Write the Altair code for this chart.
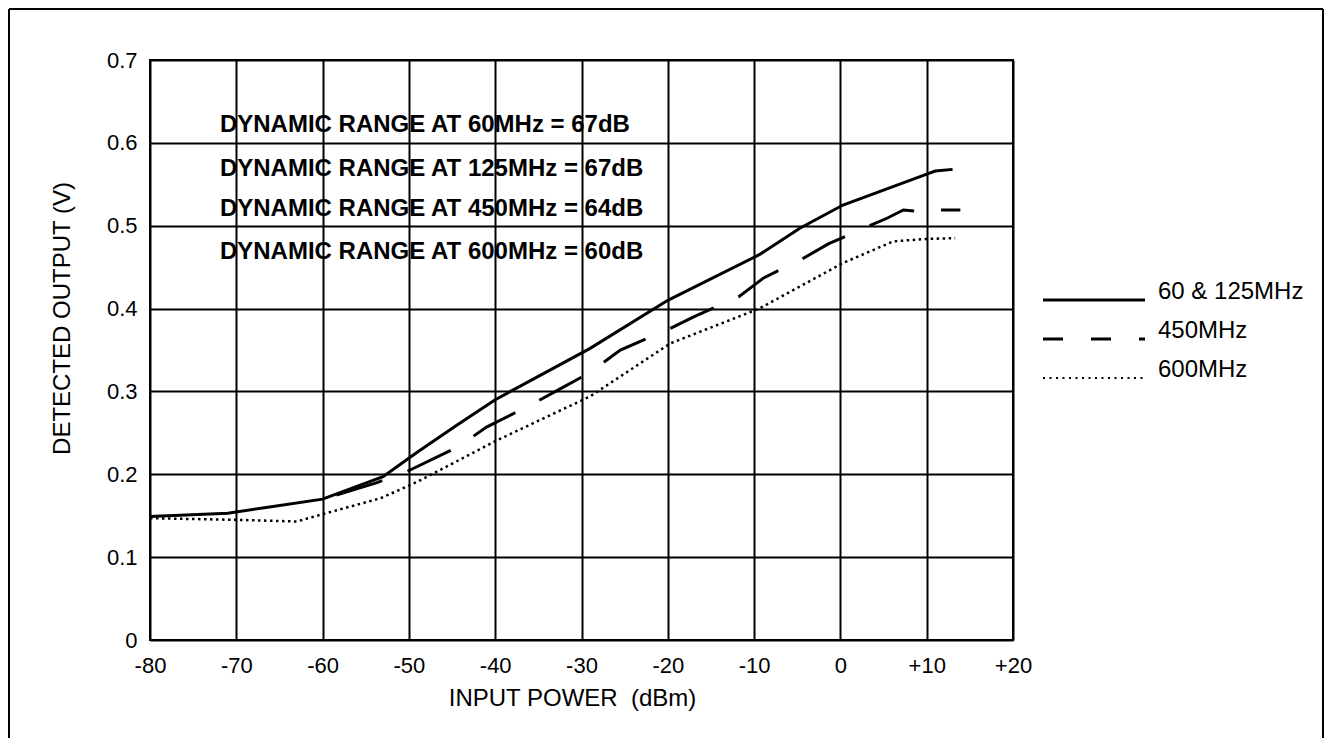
import altair as alt
import pandas as pd

FONT = "Liberation Sans"

# ---- data ----
solid_x = [-80, -71, -60, -53, -49, -44.5, -40, -29, -20, -9.4, -4.7, 0.3, 9.7, 11, 13]
solid_y = [0.149, 0.153, 0.170, 0.197, 0.227, 0.259, 0.290, 0.352, 0.410, 0.465, 0.497, 0.525, 0.561, 0.566, 0.568]

dash_x = [-58.4, -53.7, -50.3, -44.3, -41, -36.2, -33, -29, -25.5, -19.7, -17, -11.8, -8.9, -4.4, -1.4, 2.7, 5.4, 7.3, 9.4, 11.3, 13.9]
dash_y = [0.175, 0.190, 0.203, 0.233, 0.257, 0.282, 0.300, 0.323, 0.350, 0.376, 0.390, 0.414, 0.437, 0.460, 0.478, 0.497, 0.509, 0.519, 0.517, 0.519, 0.519]

dot_x = [-80, -70, -63, -59.6, -53.3, -49, -39.8, -29, -19.7, -9.4, 0.3, 6.1, 9.7, 13.3]
dot_y = [0.147, 0.145, 0.143, 0.153, 0.171, 0.191, 0.241, 0.294, 0.358, 0.400, 0.455, 0.481, 0.484, 0.485]

x_ticks = [-80, -70, -60, -50, -40, -30, -20, -10, 0, 10, 20]
y_ticks = [0, 0.1, 0.2, 0.3, 0.4, 0.5, 0.6, 0.7]

note_text = [
    "DYNAMIC RANGE AT 60MHz = 67dB",
    "DYNAMIC RANGE AT 125MHz = 67dB",
    "DYNAMIC RANGE AT 450MHz = 64dB",
    "DYNAMIC RANGE AT 600MHz = 60dB",
]
note_x = [-71.9, -71.9, -71.9, -71.9]
note_y = [0.621, 0.569, 0.520, 0.468]

legend_series = ["60 & 125MHz", "450MHz", "600MHz"]
legend_start = [0, 0, 0]
legend_end = [1, 1, 1]

# ---- tables ----
solid_df = pd.DataFrame({"power": solid_x, "volts": solid_y})
dash_df = pd.DataFrame({"power": dash_x, "volts": dash_y})
dot_df = pd.DataFrame({"power": dot_x, "volts": dot_y})
note_df = pd.DataFrame({"power": note_x, "volts": note_y, "label": note_text})
leg_df = pd.DataFrame({"series": legend_series, "start": legend_start, "end": legend_end})
one = pd.DataFrame({"k": [0]})

W, H = 863, 580

xscale = alt.Scale(domain=[-80, 20], nice=False, zero=False)
yscale = alt.Scale(domain=[0, 0.7], nice=False, zero=False)

xaxis = alt.Axis(
    values=x_ticks,
    title="INPUT POWER\u00a0 (dBm)",
    labelExpr="datum.value > 0 ? '+' + datum.value : '' + datum.value",
    labelFlush=False,
    labelOverlap=False,
    labelPadding=15,
    titleX=422,
    titleY=58,
    titleBaseline="middle",
)
yaxis = alt.Axis(
    values=y_ticks,
    title="DETECTED OUTPUT (V)",
    labelExpr="datum.value == 0 ? '0' : format(datum.value, '.1f')",
    labelFlush=False,
    labelOverlap=False,
    labelPadding=13,
    titleX=-88,
    titleY=258,
    titleBaseline="middle",
    titleAlign="center",
)

X = alt.X("power:Q", scale=xscale, axis=xaxis)
Y = alt.Y("volts:Q", scale=yscale, axis=yaxis)

solid = alt.Chart(solid_df).mark_line(color="black", strokeWidth=3).encode(x=X, y=Y)
dashed = alt.Chart(dash_df).mark_line(color="black", strokeWidth=3, strokeDash=[48, 27]).encode(x=X, y=Y)
dotted = alt.Chart(dot_df).mark_line(color="black", strokeWidth=2.5, strokeDash=[2.5, 3.5]).encode(x=X, y=Y)
notes = alt.Chart(note_df).mark_text(
    align="left", baseline="middle", font=FONT, fontSize=24, fontWeight="bold", color="black"
).encode(x="power:Q", y="volts:Q", text="label:N")

main = alt.layer(solid, dashed, dotted, notes)

# ---- legend (own scales, placed to the right of the plot) ----
lx = alt.Scale(domain=[0, 1], range=[893, 995])
ly = alt.Scale(type="point", domain=legend_series, range=[240, 318], padding=0)
LX = alt.X("start:Q", scale=lx, axis=None)
LY = alt.Y("series:N", scale=ly, axis=None)

leg_base = alt.Chart(leg_df)
leg_solid = leg_base.transform_filter(alt.datum.series == legend_series[0]).mark_rule(
    color="black", strokeWidth=3
).encode(x=LX, x2="end:Q", y=LY)
leg_dash = leg_base.transform_filter(alt.datum.series == legend_series[1]).mark_rule(
    color="black", strokeWidth=3, strokeDash=[20, 28]
).encode(x=LX, x2="end:Q", y=LY)
leg_dot = leg_base.transform_filter(alt.datum.series == legend_series[2]).mark_rule(
    color="black", strokeWidth=2, strokeDash=[2, 4.5]
).encode(x=LX, x2="end:Q", y=LY)
leg_text = leg_base.mark_text(
    align="left", baseline="middle", dx=13, dy=-8, font=FONT, fontSize=24, color="black"
).encode(x=alt.X("end:Q", scale=lx, axis=None), y=LY, text="series:N")

legend = alt.layer(leg_solid, leg_dash, leg_dot, leg_text)

# ---- outer page frame (decoration) ----
fb = alt.Chart(one)
frame_left = fb.mark_rule(color="black", strokeWidth=2).encode(
    x=alt.value(-141), y=alt.value(-51), y2=alt.value(678))
frame_top = fb.mark_rule(color="black", strokeWidth=2).encode(
    x=alt.value(-141), x2=alt.value(1173), y=alt.value(-51))
frame_right = fb.mark_rule(color="black", strokeWidth=2).encode(
    x=alt.value(1173), y=alt.value(-51), y2=alt.value(678))
frame = alt.layer(frame_left, frame_top, frame_right)

chart = (
    alt.layer(main, legend, frame)
    .resolve_scale(x="independent", y="independent")
    .properties(width=W, height=H, padding=0, background="white")
    .configure_axis(
        labelFont=FONT,
        labelFontSize=22,
        labelColor="black",
        titleFont=FONT,
        titleFontSize=24,
        titleFontWeight="normal",
        titleColor="black",
        grid=True,
        gridColor="black",
        gridWidth=2,
        gridOpacity=1,
        domain=False,
        ticks=False,
        tickSize=0,
    )
    .configure_view(stroke="black", strokeWidth=2)
)

chart.save("out.html", embed_options={"renderer": "svg", "actions": False})
